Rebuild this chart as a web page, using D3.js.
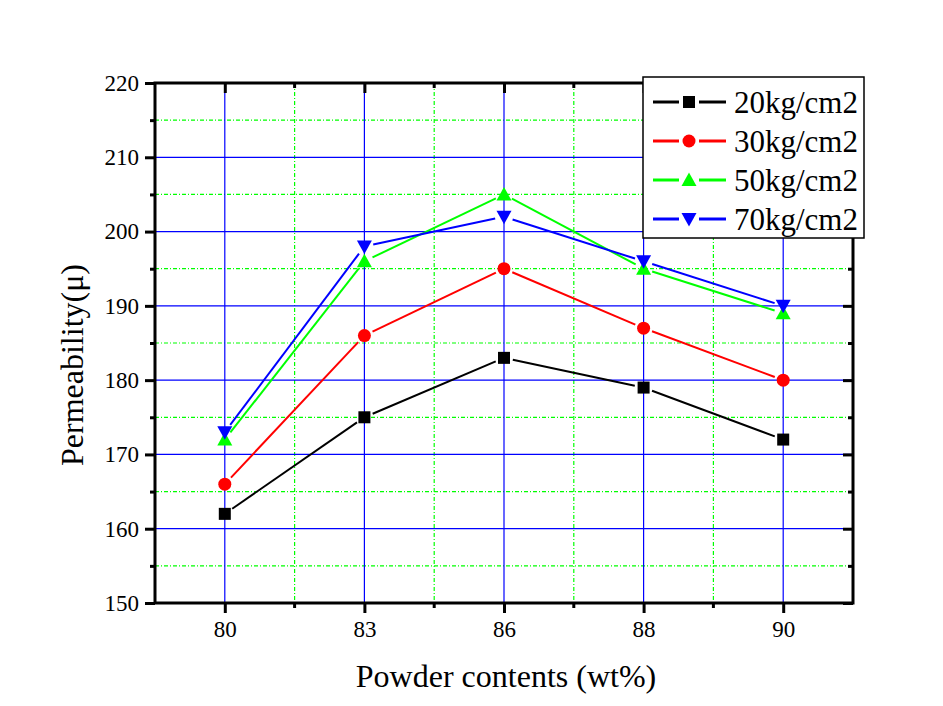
<!DOCTYPE html>
<html><head><meta charset="utf-8">
<script src="https://cdn.jsdelivr.net/npm/d3@7"></script>
<style>body{margin:0;background:#fff}svg{display:block}</style>
</head><body>
<script>
const categories = ["80","83","86","88","90"];
const seriesNames = ["20kg/cm2","30kg/cm2","50kg/cm2","70kg/cm2"];
const s20 = [162,175,183,179,172];
const s30 = [166,186,195,187,180];
const s50 = [172,196,205,195,189];
const s70 = [173,198,202,196,190];
const yTicks = [150,160,170,180,190,200,210,220];
const yMinor = [155,165,175,185,195,205,215];
const colors = ["#000000","#ff0000","#00ff00","#0000ff"];
const symbols = ["square","circle","up","down"];
const seriesValues = [s20,s30,s50,s70];

const W=943,H=706;
const L=155,R=853,T=83,B=603;
const svg=d3.select("body").append("svg").attr("width",W).attr("height",H);
const x=d3.scalePoint().domain(categories).range([L,R]).padding(0.5);
const y=d3.scaleLinear().domain([150,220]).range([B,T]);
const step=x.step();
const midX=categories.slice(0,-1).map(c=>x(c)+step/2);

// grid
const g=svg.append("g");
g.selectAll(".hm").data(yMinor).join("line").attr("x1",L).attr("x2",R).attr("y1",d=>y(d)).attr("y2",d=>y(d))
 .attr("stroke","#00ff00").attr("stroke-width",1.2).attr("stroke-dasharray","4,2,1,2");
g.selectAll(".vm").data(midX).join("line").attr("x1",d=>d).attr("x2",d=>d).attr("y1",T).attr("y2",B)
 .attr("stroke","#00ff00").attr("stroke-width",1.2).attr("stroke-dasharray","4,2,1,2");
g.selectAll(".hM").data(yTicks.slice(1,-1)).join("line").attr("x1",L).attr("x2",R).attr("y1",d=>y(d)).attr("y2",d=>y(d))
 .attr("stroke","#0000ff").attr("stroke-width",1.2);
g.selectAll(".vM").data(categories).join("line").attr("x1",d=>x(d)).attr("x2",d=>x(d)).attr("y1",T).attr("y2",B)
 .attr("stroke","#0000ff").attr("stroke-width",1.2);

// axes
const font="'Liberation Serif','Times New Roman',serif";
const ax=svg.append("g").attr("font-family",font);
// left
const left=ax.append("g").attr("transform",`translate(${L},0)`).call(d3.axisLeft(y).tickValues(yTicks).tickSize(10).tickPadding(6).tickFormat(d3.format("d")));
left.selectAll("text").attr("font-size",23).attr("fill","#000").attr("font-family",font);
left.selectAll(".tick line").attr("stroke-width",3);
left.select(".domain").remove();
ax.append("g").attr("transform",`translate(${L},0)`).call(d3.axisLeft(y).tickValues(yMinor).tickSize(5).tickFormat(""))
 .call(s=>{s.select(".domain").remove();s.selectAll("line").attr("stroke-width",3);});
// right
ax.append("g").attr("transform",`translate(${R},0)`).call(d3.axisLeft(y).tickValues(yTicks).tickSize(10).tickFormat(""))
 .call(s=>{s.select(".domain").remove();s.selectAll("line").attr("stroke-width",3);});
ax.append("g").attr("transform",`translate(${R},0)`).call(d3.axisLeft(y).tickValues(yMinor).tickSize(5).tickFormat(""))
 .call(s=>{s.select(".domain").remove();s.selectAll("line").attr("stroke-width",3);});
// bottom
const bottom=ax.append("g").attr("transform",`translate(0,${B})`).call(d3.axisBottom(x).tickSize(10).tickPadding(8));
bottom.selectAll("text").attr("font-size",23).attr("fill","#000").attr("font-family",font);
bottom.selectAll(".tick line").attr("stroke-width",3);
bottom.select(".domain").remove();
const xm=d3.scaleLinear().domain([0,1]).range([0,1]);
ax.append("g").selectAll("line").data(midX).join("line").attr("x1",d=>d).attr("x2",d=>d).attr("y1",B).attr("y2",B+5).attr("stroke","#000").attr("stroke-width",3);
// top
ax.append("g").attr("transform",`translate(0,${T})`).call(d3.axisBottom(x).tickSize(10).tickFormat(""))
 .call(s=>{s.select(".domain").remove();s.selectAll("line").attr("stroke-width",3);});
ax.append("g").selectAll("line").data(midX).join("line").attr("x1",d=>d).attr("x2",d=>d).attr("y1",T).attr("y2",T+5).attr("stroke","#000").attr("stroke-width",3);
// frame
ax.append("rect").attr("x",L).attr("y",T).attr("width",R-L).attr("height",B-T).attr("fill","none").attr("stroke","#000").attr("stroke-width",3);

// symbol drawing
function drawSym(sel,type,cx,cy,color){
  if(type==="square") sel.append("rect").attr("x",cx-6).attr("y",cy-6).attr("width",12).attr("height",12).attr("fill",color);
  else if(type==="circle") sel.append("circle").attr("cx",cx).attr("cy",cy).attr("r",6.5).attr("fill",color);
  else if(type==="up") sel.append("path").attr("d",`M${cx},${cy-7.5}L${cx+7.5},${cy+6}L${cx-7.5},${cy+6}Z`).attr("fill",color);
  else sel.append("path").attr("d",`M${cx},${cy+7.5}L${cx+7.5},${cy-6}L${cx-7.5},${cy-6}Z`).attr("fill",color);
}

// series
const gap=9;
seriesValues.forEach((vals,si)=>{
  const sg=svg.append("g");
  const pts=vals.map((v,i)=>[x(categories[i]),y(v)]);
  for(let i=0;i<pts.length-1;i++){
    const [x1,y1]=pts[i],[x2,y2]=pts[i+1];
    const len=Math.hypot(x2-x1,y2-y1),ux=(x2-x1)/len,uy=(y2-y1)/len;
    sg.append("line").attr("x1",x1+ux*gap).attr("y1",y1+uy*gap).attr("x2",x2-ux*gap).attr("y2",y2-uy*gap)
      .attr("stroke",colors[si]).attr("stroke-width",2);
  }
  pts.forEach(p=>drawSym(sg,symbols[si],p[0],p[1],colors[si]));
});

// legend
const lg=svg.append("g");
lg.append("rect").attr("x",643).attr("y",77).attr("width",221).attr("height",161).attr("fill","#fff").attr("stroke","#000").attr("stroke-width",1.5);
seriesNames.forEach((n,i)=>{
  const cy=102+i*39;
  lg.append("line").attr("x1",653).attr("x2",679).attr("y1",cy).attr("y2",cy).attr("stroke",colors[i]).attr("stroke-width",3);
  lg.append("line").attr("x1",699).attr("x2",726).attr("y1",cy).attr("y2",cy).attr("stroke",colors[i]).attr("stroke-width",3);
  drawSym(lg,symbols[i],689,cy,colors[i]);
  lg.append("text").attr("x",734).attr("y",cy+11).attr("font-family",font).attr("font-size",31).attr("fill","#000").text(n);
});

// titles
svg.append("text").attr("x",(L+R)/2+2).attr("y",687).attr("text-anchor","middle").attr("font-family",font).attr("font-size",32).text("Powder contents (wt%)");
svg.append("text").attr("transform",`translate(83,${(T+B)/2+22}) rotate(-90)`).attr("text-anchor","middle").attr("font-family",font).attr("font-size",32).text("Permeability(μ)");
</script>
</body></html>
